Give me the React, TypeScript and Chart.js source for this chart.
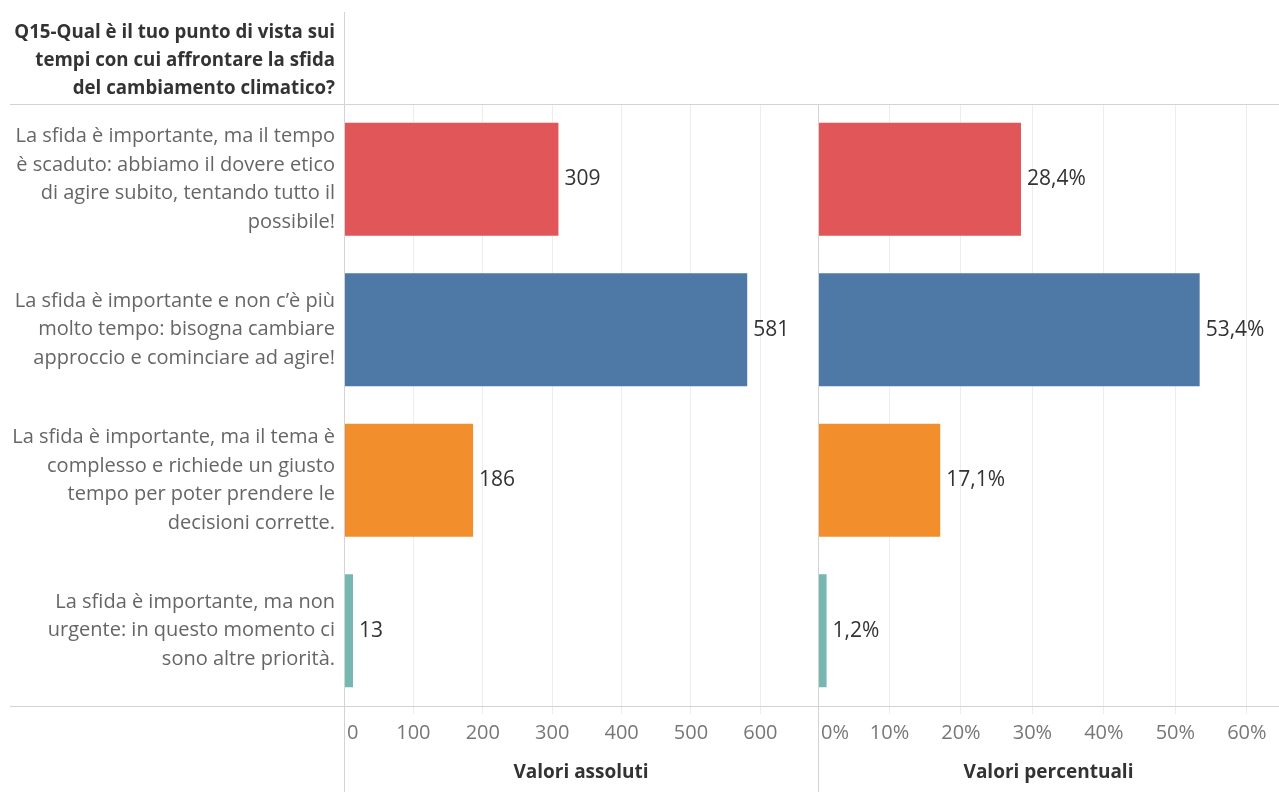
import React, { useEffect, useRef } from "react";
import { Chart, registerables } from "chart.js";

Chart.register(...registerables);

const headerLines = [
  "Q15-Qual è il tuo punto di vista sui",
  "tempi con cui affrontare la sfida",
  "del cambiamento climatico?",
];

const categories: string[][] = [
  ["La sfida è importante, ma il tempo", "è scaduto: abbiamo il dovere etico", "di agire subito, tentando tutto il", "possibile!"],
  ["La sfida è importante e non c’è più", "molto tempo: bisogna cambiare", "approccio e cominciare ad agire!"],
  ["La sfida è importante, ma il tema è", "complesso e richiede un giusto", "tempo per poter prendere le", "decisioni corrette."],
  ["La sfida è importante, ma non", "urgente: in questo momento ci", "sono altre priorità."],
];

const absoluteValues = [309, 581, 186, 13];
const percentValues = [28.4, 53.4, 17.1, 1.2];
const barColors = ["#E15759", "#4E79A7", "#F28E2B", "#76B7B2"];

const absoluteTicks = [0, 100, 200, 300, 400, 500, 600];
const percentTicks = [0, 10, 20, 30, 40, 50, 60];

const absoluteTitle = "Valori assoluti";
const percentTitle = "Valori percentuali";

const FONT = "'Open Sans', sans-serif";
const LINE = "#d3d3d3";
const GRID = "#ededed";

const fmtAbs = (v: number) => String(v);
const fmtPct = (v: number) => v.toFixed(1).replace(".", ",") + "%";
const fmtPctTick = (v: number) => v + "%";

function makePlugins(opts: {
  values: number[];
  labelFmt: (v: number) => string;
  tickFmt: (v: number) => string;
  title: string;
  left: boolean;
}) {
  return {
    id: "decor",
    afterDraw(chart: any) {
      const ctx = chart.ctx as CanvasRenderingContext2D;
      const ca = chart.chartArea;
      const W = chart.width;
      const H = chart.height;
      ctx.save();
      // frame lines
      ctx.strokeStyle = LINE;
      ctx.lineWidth = 1;
      ctx.beginPath();
      const hx0 = opts.left ? 10 : 0;
      ctx.moveTo(hx0, Math.round(ca.top) + 0.5);
      ctx.lineTo(W, Math.round(ca.top) + 0.5);
      ctx.moveTo(hx0, Math.round(ca.bottom) + 0.5);
      ctx.lineTo(W, Math.round(ca.bottom) + 0.5);
      const vx = Math.round(ca.left) + 0.5;
      ctx.moveTo(vx, opts.left ? 12 : ca.top);
      ctx.lineTo(vx, H);
      ctx.stroke();

      // header
      if (opts.left) {
        ctx.fillStyle = "#333333";
        ctx.font = `bold 18.7px ${FONT}`;
        ctx.textAlign = "right";
        ctx.textBaseline = "middle";
        headerLines.forEach((t, i) => ctx.fillText(t, 335, 33 + i * 28));
      }

      // tick labels
      const xs = chart.scales.x;
      ctx.fillStyle = "#777777";
      ctx.font = `20px ${FONT}`;
      ctx.textBaseline = "middle";
      xs.ticks.forEach((t: any, i: number) => {
        const x = xs.getPixelForValue(t.value);
        const s = opts.tickFmt(t.value);
        if (i === 0) {
          ctx.textAlign = "left";
          ctx.fillText(s, x + 3, ca.bottom + 27);
        } else {
          ctx.textAlign = "center";
          ctx.fillText(s, x, ca.bottom + 27);
        }
      });

      // axis title
      ctx.fillStyle = "#333333";
      ctx.font = `bold 19px ${FONT}`;
      ctx.textAlign = "center";
      ctx.fillText(opts.title, (ca.left + ca.right) / 2, ca.bottom + 67);

      // data labels
      const meta = chart.getDatasetMeta(0);
      ctx.fillStyle = "#333333";
      ctx.font = `21px ${FONT}`;
      ctx.textAlign = "left";
      meta.data.forEach((bar: any, i: number) => {
        ctx.fillText(opts.labelFmt(opts.values[i]), bar.x + 6, bar.y);
      });
      ctx.restore();
    },
  };
}

function buildConfig(kind: "abs" | "pct"): any {
  const isAbs = kind === "abs";
  const values = isAbs ? absoluteValues : percentValues;
  const tickVals = isAbs ? absoluteTicks : percentTicks;
  return {
    type: "bar",
    data: {
      labels: categories,
      datasets: [
        {
          data: values,
          backgroundColor: barColors,
          borderWidth: 0,
          barPercentage: 0.75,
          categoryPercentage: 1,
        },
      ],
    },
    options: {
      indexAxis: "y",
      animation: false,
      responsive: false,
      maintainAspectRatio: false,
      layout: { padding: { top: 104, left: 0, right: 0, bottom: 0 } },
      plugins: { legend: { display: false }, tooltip: { enabled: false } },
      scales: {
        x: {
          type: "linear",
          min: 0,
          max: isAbs ? 683 : 64.5,
          border: { display: false },
          grid: {
            color: GRID,
            tickColor: GRID,
            tickLength: 8,
            drawTicks: true,
          },
          ticks: { display: false },
          afterBuildTicks: (scale: any) => {
            scale.ticks = tickVals.map((v) => ({ value: v }));
          },
          afterFit: (scale: any) => {
            scale.height = 86;
          },
        },
        y: {
          type: "category",
          display: isAbs,
          border: { display: false },
          grid: { display: false, drawTicks: false },
          ticks: {
            color: "#666666",
            font: { family: FONT, size: 20, lineHeight: 1.42 },
            padding: 9,
            autoSkip: false,
          },
          afterFit: (scale: any) => {
            scale.width = isAbs ? 344 : 0;
          },
        },
      },
    },
    plugins: [
      makePlugins({
        values,
        labelFmt: isAbs ? fmtAbs : fmtPct,
        tickFmt: isAbs ? fmtAbs : fmtPctTick,
        title: isAbs ? absoluteTitle : percentTitle,
        left: isAbs,
      }),
    ],
  };
}

export default function App() {
  const leftRef = useRef<HTMLCanvasElement>(null);
  const rightRef = useRef<HTMLCanvasElement>(null);

  useEffect(() => {
    const c1 = new Chart(leftRef.current as HTMLCanvasElement, buildConfig("abs"));
    const c2 = new Chart(rightRef.current as HTMLCanvasElement, buildConfig("pct"));
    return () => {
      c1.destroy();
      c2.destroy();
    };
  }, []);

  return (
    <div
      style={{
        position: "absolute",
        left: 0,
        top: 0,
        width: 1279,
        height: 792,
        background: "#ffffff",
        overflow: "hidden",
      }}
    >
      <canvas
        ref={leftRef}
        width={818}
        height={792}
        style={{ position: "absolute", left: 0, top: 0, width: 818, height: 792 }}
      />
      <canvas
        ref={rightRef}
        width={461}
        height={792}
        style={{ position: "absolute", left: 818, top: 0, width: 461, height: 792 }}
      />
    </div>
  );
}
